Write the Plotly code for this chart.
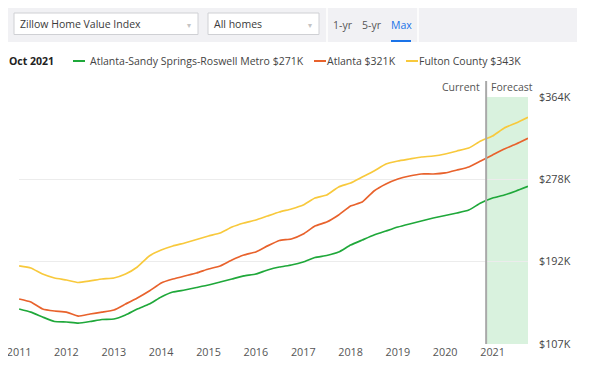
import plotly.graph_objects as go

# ---------------- data (thousands of USD, quarterly) ----------------
dates = [f"{y}-{m:02d}-01" for y in range(2011, 2022) for m in (1, 4, 7, 10)]

metro_name = "Atlanta-Sandy Springs-Roswell Metro"
metro = [143.4, 140.2, 135.1, 130.4, 129.9, 128.8, 130.4, 132.5, 133.0, 137.2,
         143.4, 148.6, 155.9, 161.1, 163.2, 165.8, 168.4, 171.5, 174.6, 177.8,
         179.8, 184.0, 187.1, 189.2, 192.3, 197.0, 199.1, 202.7, 210.0, 215.2,
         220.4, 224.6, 228.7, 231.9, 235.0, 238.1, 240.7, 243.3, 246.4, 253.7,
         258.9, 262.0, 266.2, 271.0]

atl_name = "Atlanta"
atlanta = [153.8, 150.7, 143.4, 141.3, 140.2, 136.1, 138.2, 140.2, 142.4, 148.6,
           154.9, 162.1, 170.5, 174.6, 177.8, 180.9, 185.0, 188.2, 194.4, 199.6,
           202.8, 209.1, 214.7, 216.3, 221.4, 229.8, 233.9, 241.2, 250.6, 254.7,
           266.2, 273.5, 278.7, 281.8, 283.9, 283.9, 285.0, 288.0, 291.2, 297.4,
           303.7, 309.9, 315.0, 321.0]

fulton_name = "Fulton County"
fulton = [188.2, 186.1, 179.8, 175.7, 173.6, 171.0, 172.6, 174.6, 175.7, 179.8,
          187.1, 198.6, 204.8, 209.0, 212.1, 215.7, 219.4, 222.5, 228.7, 232.9,
          236.0, 240.2, 244.3, 247.5, 251.6, 258.9, 262.0, 270.4, 274.5, 280.8,
          287.0, 294.3, 297.4, 299.5, 301.6, 302.6, 304.7, 307.8, 310.9, 318.2,
          323.4, 331.7, 337.0, 343.0]

y_ticks = [107, 192.67, 278.33, 364]
y_tick_labels = ["$107K", "$192K", "$278K", "$364K"]
x_tick_years = list(range(2011, 2022))
current_date = "2020-11-12"
as_of_label = "Oct 2021"
x_range = ["2010-12-31", "2021-10-01"]

colors = {"metro": "#1fa83a", "atl": "#e8622c", "fulton": "#f8c93c"}

# ---------------- geometry (page pixels; page body has an 8px margin) ----------------
OFF = 8
PAGE_W, PAGE_H = 600, 375
W, H = PAGE_W - OFF, PAGE_H - OFF
L, R, T, B = 19, 528, 97, 344   # plot area in page pixels


def px(p):
    return (p - L) / (R - L)


def py(p):
    return (B - p) / (B - T)


FONT = "Open Sans"
FS = 10.5

fig = go.Figure()
series = [(metro_name, metro, colors["metro"]),
          (atl_name, atlanta, colors["atl"]),
          (fulton_name, fulton, colors["fulton"])]
for name, vals, col in series:
    fig.add_trace(go.Scatter(x=dates, y=vals, name=name, mode="lines",
                             line=dict(color=col, width=1.7, shape="spline", smoothing=0.4),
                             showlegend=False, hoverinfo="skip"))

shapes = []
annotations = []

# forecast band + current line
shapes.append(dict(type="rect", xref="x", yref="paper", x0=current_date, x1=x_range[1],
                   y0=0, y1=1, fillcolor="#d9f2de", line=dict(width=0), layer="below"))
shapes.append(dict(type="line", xref="x", yref="paper", x0=current_date, x1=current_date,
                   y0=0, y1=py(81), line=dict(color="#a9a9a9", width=2)))
annotations.append(dict(xref="x", yref="paper", x=current_date, y=py(87), text="Current",
                        showarrow=False, xanchor="right", xshift=-4, yanchor="middle",
                        font=dict(family=FONT, size=FS, color="#555")))
annotations.append(dict(xref="x", yref="paper", x=current_date, y=py(87), text="Forecast",
                        showarrow=False, xanchor="left", xshift=3, yanchor="middle",
                        font=dict(family=FONT, size=FS, color="#555")))

# header band
shapes.append(dict(type="rect", xref="paper", yref="paper", x0=px(6), x1=px(577),
                   y0=py(42), y1=py(7), fillcolor="#f1f1f4", line=dict(width=0)))
for xs in (327, 418):
    shapes.append(dict(type="line", xref="paper", yref="paper", x0=px(xs), x1=px(xs),
                       y0=py(42), y1=py(7), line=dict(color="#ffffff", width=1.5)))
# dropdowns
for (x0, x1, label) in [(14, 198, "Zillow Home Value Index"), (208, 319, "All homes")]:
    shapes.append(dict(type="rect", xref="paper", yref="paper", x0=px(x0), x1=px(x1),
                       y0=py(34.5), y1=py(13), fillcolor="#ffffff",
                       line=dict(color="#cfd0d4", width=1)))
    annotations.append(dict(xref="paper", yref="paper", x=px(x0 + 4), y=py(24), text=label,
                            showarrow=False, xanchor="left", yanchor="middle",
                            font=dict(family=FONT, size=FS, color="#3a3a3a")))
    annotations.append(dict(xref="paper", yref="paper", x=px(x1 - 9), y=py(24), text="▾",
                            showarrow=False, xanchor="center", yanchor="middle",
                            font=dict(family=FONT, size=8, color="#c4c4c4")))
# range buttons
for (xc, label, col) in [(343, "1-yr", "#555555"), (371.5, "5-yr", "#555555"), (401, "Max", "#1a73e8")]:
    annotations.append(dict(xref="paper", yref="paper", x=px(xc), y=py(25), text=label,
                            showarrow=False, xanchor="center", yanchor="middle",
                            font=dict(family=FONT, size=FS, color=col)))
shapes.append(dict(type="line", xref="paper", yref="paper", x0=px(391), x1=px(411),
                   y0=py(41), y1=py(41), line=dict(color="#1a73e8", width=2)))

# legend row
annotations.append(dict(xref="paper", yref="paper", x=px(7), y=py(61), text=f"<b>{as_of_label}</b>",
                        showarrow=False, xanchor="left", yanchor="middle",
                        font=dict(family=FONT, size=FS, color="#222")))
legend_pos = [(73, 88), (314, 325), (406, 417)]
for (lx, tx), (name, vals, col) in zip(legend_pos, series):
    shapes.append(dict(type="line", xref="paper", yref="paper", x0=px(lx), x1=px(lx + 12),
                       y0=py(61), y1=py(61), line=dict(color=col, width=2)))
    annotations.append(dict(xref="paper", yref="paper", x=px(tx), y=py(61),
                            text=f"{name} ${round(vals[-1])}K",
                            showarrow=False, xanchor="left", yanchor="middle",
                            font=dict(family=FONT, size=FS, color="#444")))

fig.update_layout(
    width=W, height=H,
    margin=dict(l=L - OFF, r=PAGE_W - R, t=T - OFF, b=PAGE_H - B, pad=0),
    paper_bgcolor="#ffffff", plot_bgcolor="#ffffff",
    shapes=shapes, annotations=annotations,
    font=dict(family=FONT, size=FS, color="#555"),
    xaxis=dict(type="date", range=x_range,
               tickvals=[f"{y}-01-01" for y in x_tick_years],
               ticktext=[str(y) for y in x_tick_years],
               ticklabeloverflow="allow", automargin=False,
               showgrid=False, zeroline=False, showline=False, ticks="",
               tickfont=dict(family=FONT, size=10.8, color="#555")),
    yaxis=dict(range=[y_ticks[0], y_ticks[-1]], side="right",
               tickvals=y_ticks, ticktext=y_tick_labels, automargin=False,
               showgrid=True, gridcolor="#ececec", gridwidth=1, zeroline=False,
               showline=False, ticks="", ticklabelstandoff=10,
               tickfont=dict(family=FONT, size=10.8, color="#444")),
)

fig.write_html("out.html")
